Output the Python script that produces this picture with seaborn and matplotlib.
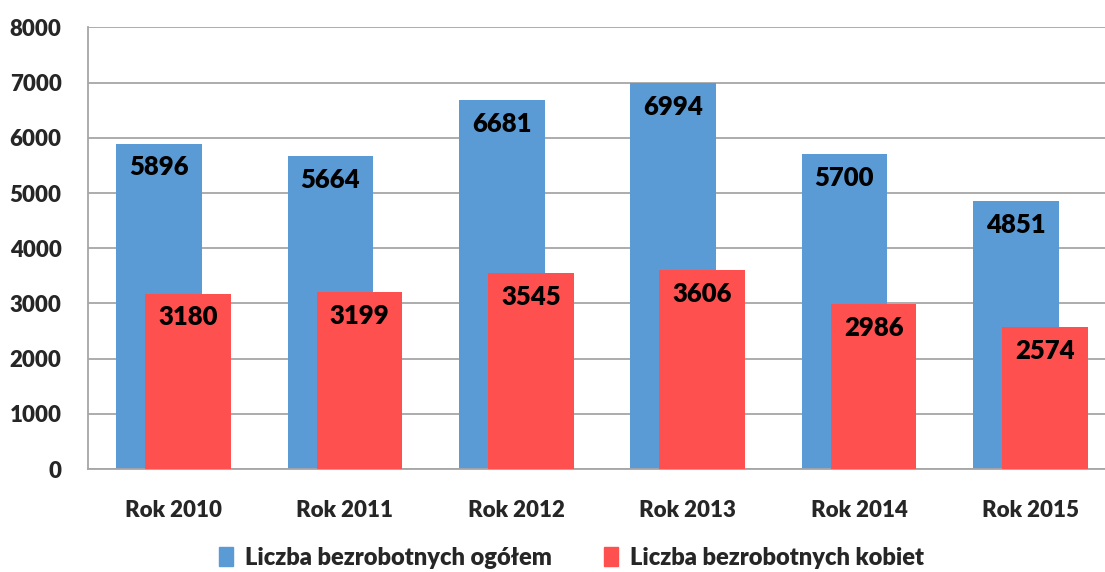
import matplotlib
matplotlib.use('Agg')
import pandas as pd
import numpy as np
import matplotlib.pyplot as plt
import matplotlib.patches as mpatches
import seaborn as sns

years = ['Rok 2010', 'Rok 2011', 'Rok 2012', 'Rok 2013', 'Rok 2014', 'Rok 2015']
total = [5896, 5664, 6681, 6994, 5700, 4851]
women = [3180, 3199, 3545, 3606, 2986, 2574]
series_names = ['Liczba bezrobotnych ogółem', 'Liczba bezrobotnych kobiet']

BLUE = '#5B9BD5'
RED = '#FF5050'
GRID = '#A6A6A6'
WEIGHT = 'heavy'

sns.set_style('white')
plt.rcParams['font.family'] = ['Lato', 'DejaVu Sans']
plt.rcParams['font.weight'] = WEIGHT

df = pd.DataFrame({'year': years, 'total': total, 'women': women})

fig = plt.figure(figsize=(11.05, 5.72), dpi=100)
ax = fig.add_axes([88 / 1105, 0.180, 1028 / 1105, 0.772])

# two overlapping series, blue behind, red shifted right
shift = 0.085
n_before = len(ax.patches)
sns.barplot(data=df, x='year', y='total', color=BLUE, width=0.5,
            saturation=1, linewidth=0, ax=ax, zorder=2)
blue_bars = ax.patches[n_before:]
for p in blue_bars:
    p.set_x(p.get_x() - shift)
n_before = len(ax.patches)
sns.barplot(data=df, x='year', y='women', color=RED, width=0.5,
            saturation=1, linewidth=0, ax=ax, zorder=3)
red_bars = ax.patches[n_before:]
for p in red_bars:
    p.set_x(p.get_x() + shift)

for bars, vals in [(blue_bars, total), (red_bars, women)]:
    for p, v in zip(bars, vals):
        ax.annotate(str(v), (p.get_x() + p.get_width() / 2, v),
                    xytext=(0, -17), textcoords='offset points',
                    ha='center', va='center', fontsize=18.5,
                    fontweight=WEIGHT, color='black', zorder=5)

ax.set_xlim(-0.5, 5.5)
ax.set_ylim(0, 8000)
ax.set_yticks(range(0, 8001, 1000))
ax.yaxis.grid(True, color=GRID, linewidth=1.3, zorder=0)
ax.set_axisbelow(True)
ax.set_xlabel('')
ax.set_ylabel('')

for s in ['top', 'right']:
    ax.spines[s].set_visible(False)
for s in ['left', 'bottom']:
    ax.spines[s].set_color(GRID)
    ax.spines[s].set_linewidth(1.3)

ax.set_xticks(np.arange(-0.5, 6.0, 1.0), minor=True)
ax.tick_params(axis='x', which='major', length=0, pad=22, labelsize=16)
ax.tick_params(axis='x', which='minor', length=7, color=GRID, width=1.3)
ax.tick_params(axis='y', length=6, color=GRID, width=1.3, pad=13, labelsize=16)
for lbl in ax.get_xticklabels() + ax.get_yticklabels():
    lbl.set_fontweight(WEIGHT)

handles = [mpatches.Patch(color=BLUE, label=series_names[0]),
           mpatches.Patch(color=RED, label=series_names[1])]
fig.legend(handles=handles, loc='center', bbox_to_anchor=(0.517, 0.025),
           ncol=2, frameon=False, handlelength=0.6,
           handleheight=0.9, handletextpad=0.5, columnspacing=2.2,
           prop={'weight': WEIGHT, 'size': 17})

fig.savefig('out.png', dpi=100)
